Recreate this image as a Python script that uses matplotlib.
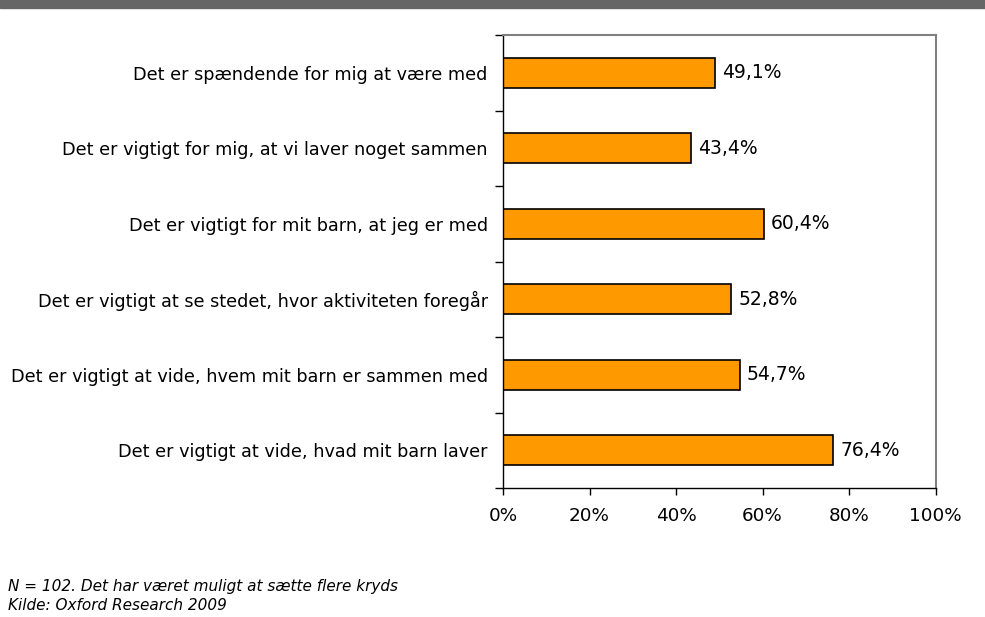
import matplotlib.pyplot as plt
from matplotlib.patches import Rectangle

# Data (top to bottom as in the chart)
kategorier = [
    "Det er spændende for mig at være med",
    "Det er vigtigt for mig, at vi laver noget sammen",
    "Det er vigtigt for mit barn, at jeg er med",
    "Det er vigtigt at se stedet, hvor aktiviteten foregår",
    "Det er vigtigt at vide, hvem mit barn er sammen med",
    "Det er vigtigt at vide, hvad mit barn laver",
]
andele = [49.1, 43.4, 60.4, 52.8, 54.7, 76.4]
x_ticks = [0, 20, 40, 60, 80, 100]
x_labels = ["0%", "20%", "40%", "60%", "80%", "100%"]
fodnote = "N = 102. Det har været muligt at sætte flere kryds\nKilde: Oxford Research 2009"

plt.rcParams["font.family"] = ["DejaVu Sans"]

fig = plt.figure(figsize=(9.85, 6.17), dpi=100)
fig.patches.append(Rectangle((0, 1 - 8 / 617), 1, 8 / 617, transform=fig.transFigure,
                             color="#666666", zorder=0))

ax = fig.add_axes([503 / 985, 1 - 488 / 617, 432.5 / 985, 453 / 617])

pos = list(range(len(kategorier)))
ax.barh(pos, andele, height=0.4, color="#FF9900", edgecolor="black", linewidth=1.2)

for p, v in zip(pos, andele):
    ax.text(v + 1.6, p, f"{v:.1f}%".replace(".", ","), va="center", ha="left", fontsize=13.5)

ax.set_ylim(len(kategorier) - 0.5, -0.5)
ax.set_xlim(0, 100)

ax.set_yticks(pos)
ax.set_yticklabels(kategorier, fontsize=12.7)
ax.tick_params(axis="y", which="major", length=0, pad=11)
ax.set_yticks([i - 0.5 for i in range(len(kategorier) + 1)], minor=True)
ax.tick_params(axis="y", which="minor", length=6, direction="out", width=1)

ax.set_xticks(x_ticks)
ax.set_xticklabels(x_labels, fontsize=13.2)
ax.tick_params(axis="x", length=5, direction="out", width=1, pad=9)

for s in ["top", "right"]:
    ax.spines[s].set_color("#808080")
    ax.spines[s].set_linewidth(1.5)
for s in ["left", "bottom"]:
    ax.spines[s].set_color("black")
    ax.spines[s].set_linewidth(1)

fig.text(8 / 985, 1 - 579 / 617, fodnote, fontsize=11, style="italic",
         va="top", ha="left", linespacing=1.3)

fig.savefig("out.png", dpi=100)
